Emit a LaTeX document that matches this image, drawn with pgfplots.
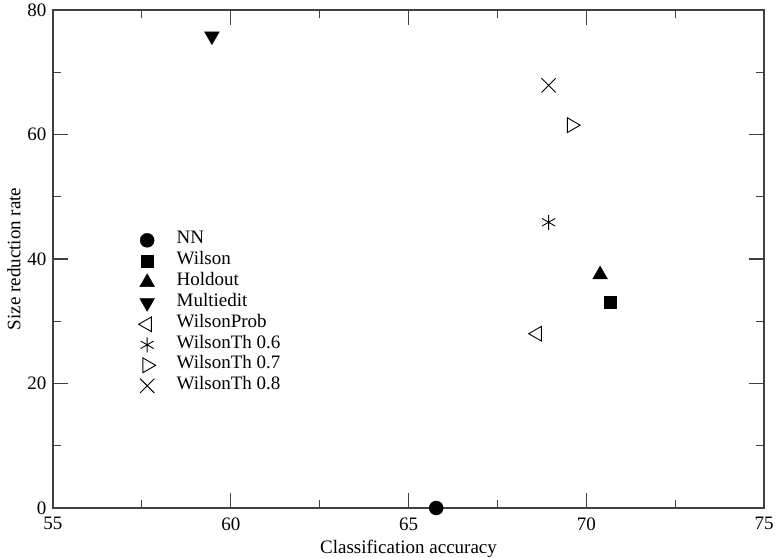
\documentclass[border=0pt]{standalone}
\usepackage{pgfplots}
\pgfplotsset{compat=1.18}
\usepackage{fontspec}
\setmainfont{Liberation Serif}
\begin{document}
\begin{tikzpicture}[x=1pt,y=1pt]
\begin{axis}[
  scale only axis,
  width=711pt, height=498pt,
  xmin=55, xmax=75, ymin=0, ymax=80,
  xtick={55,60,65,70,75},
  ytick={0,20,40,60,80},
  minor xtick={57.5,62.5,67.5,72.5},
  minor ytick={10,30,50,70},
  tick align=inside,
  major tick length=15pt,
  minor tick length=8pt,
  axis line style={draw=black!75, line width=1.2pt},
  every tick/.style={black!75, line width=1.2pt},
  /pgf/number format/assume math mode=true,
  ticklabel style={font=\fontsize{19}{22}\selectfont},
  xticklabel style={yshift=-6pt},
  yticklabel style={xshift=-3pt},
  xlabel={Classification accuracy},
  ylabel={Size reduction rate},
  label style={font=\fontsize{19}{22}\selectfont},
  xlabel style={yshift=-3pt},
  legend cell align=left,
  legend style={draw=none, fill=none, at={(0.116,0.557)}, anchor=north west,
    font=\fontsize{19}{22}\selectfont,
    nodes={inner sep=0pt, text height=11pt, text depth=4pt},
    row sep=5.5pt, column sep=0pt},
  legend image code/.code={\draw[#1] plot coordinates {(0pt,0pt)}; \path (-8pt,0pt) (29pt,0pt);},
]
\addplot[only marks, mark=*, mark size=7pt, black] coordinates {(65.78,0)};
\addlegendentry{NN}
\addplot[only marks, mark=square*, mark size=6pt, black] coordinates {(70.67,33.0)};
\addlegendentry{Wilson}
\addplot[only marks, mark=triangle*, mark size=8.5pt, black] coordinates {(70.39,37.5)};
\addlegendentry{Holdout}
\addplot[only marks, mark=triangle*, mark size=8.5pt, mark options={rotate=180}, black] coordinates {(59.47,75.8)};
\addlegendentry{Multiedit}
\addplot[only marks, mark=triangle, mark size=8.5pt, mark options={rotate=90}, black, line width=0.9pt] coordinates {(68.62,28.0)};
\addlegendentry{WilsonProb}
\addplot[only marks, mark=asterisk, mark size=7.5pt, black, line width=0.9pt] coordinates {(68.94,45.9)};
\addlegendentry{WilsonTh 0.6}
\addplot[only marks, mark=triangle, mark size=8.5pt, mark options={rotate=-90}, black, line width=0.9pt] coordinates {(69.59,61.5)};
\addlegendentry{WilsonTh 0.7}
\addplot[only marks, mark=x, mark size=10pt, black, line width=0.9pt] coordinates {(68.94,67.9)};
\addlegendentry{WilsonTh 0.8}
\end{axis}
\pgfresetboundingbox
\path[use as bounding box] ([shift={(-53pt,-50pt)}]current axis.south west) rectangle ([shift={(12pt,10pt)}]current axis.north east);
\end{tikzpicture}
\end{document}
